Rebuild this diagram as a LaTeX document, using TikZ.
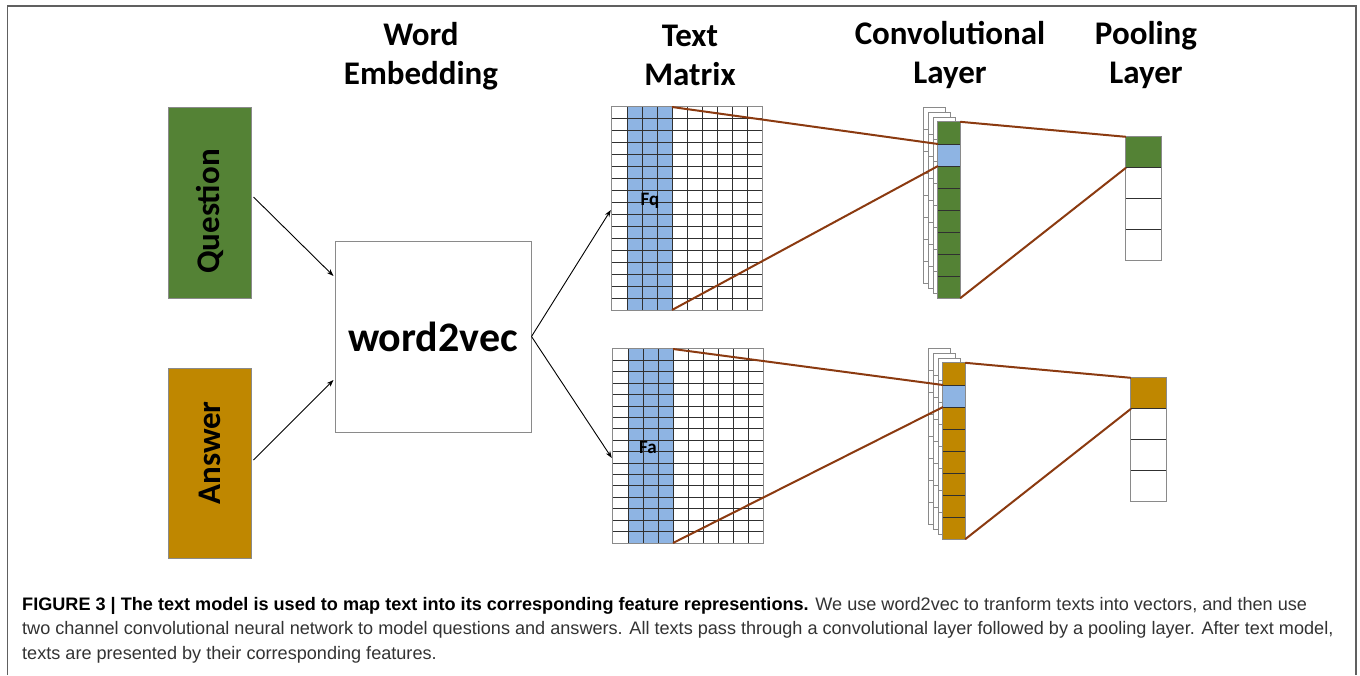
\documentclass[tikz,border=0pt]{standalone}
\usepackage{fontspec}
\setmainfont{Carlito}
\newfontfamily\capfont{Liberation Sans}
\usetikzlibrary{arrows.meta,calc}
\definecolor{qgreen}{HTML}{548235}
\definecolor{agold}{HTML}{BF8700}
\definecolor{cblue}{HTML}{8EB4E3}
\definecolor{brn}{HTML}{8B3A10}
\definecolor{gridc}{HTML}{303030}
\definecolor{edgec}{HTML}{8A8A8A}
\definecolor{framec}{HTML}{606060}
\definecolor{captc}{HTML}{333333}
\begin{document}
\begin{tikzpicture}[x=1pt,y=-1pt,
  hdr/.style={font=\fontsize{33}{39}\selectfont\bfseries, align=center, inner sep=0pt},
  inbox/.style={draw=edgec, line width=1pt, inner sep=0pt},
  arr/.style={-{Stealth[length=7pt,width=5pt]}, line width=0.9pt},
  brownline/.style={draw=brn, line width=2pt},
  gridl/.style={draw=gridc, line width=0.9pt},
  backl/.style={draw=edgec, fill=white, line width=0.9pt},
  capt/.style={font=\capfont\fontsize{18.1}{24}\selectfont, text=captc, anchor=base west, inner sep=0pt},
  lbl/.style={font=\fontsize{19}{20}\selectfont\bfseries, inner sep=0pt}]
\useasboundingbox (0,0) rectangle (1360,675);
\fill[white] (0,0) rectangle (1360,675);
\draw[framec, line width=1.5pt] (7.5,675) -- (7.5,6) -- (1356,6) -- (1356,675);

% headers
\node[hdr] (h1) at (421,56.5) {Word\\Embedding};
\node[hdr] (h2) at (690,55) {Text\\Matrix};
\node[hdr] (h3) at (950,55) {Convolutional\\Layer};
\node[hdr] (h4) at (1146,55) {Pooling\\Layer};

% inputs
\node[inbox, fill=qgreen, minimum width=83, minimum height=191] (q) at (209.5,202.5)
  {\rotatebox{90}{\fontsize{33}{34}\selectfont\bfseries Question\hspace*{18pt}}};
\node[inbox, fill=agold, minimum width=83, minimum height=190] (a) at (209.5,463)
  {\rotatebox{90}{\fontsize{33}{34}\selectfont\bfseries \hspace*{20pt}Answer}};
\node[inbox, fill=white, minimum width=196, minimum height=191] (w) at (433,336.5)
  {\fontsize{42}{44}\selectfont\bfseries word2vec};

% text matrices (frames)
\node[inner sep=0pt, minimum width=150, minimum height=203] (m1) at (687,208.5) {};
\node[inner sep=0pt, minimum width=150, minimum height=194] (m2) at (688,446) {};
\fill[cblue] (627,107) rectangle (672,310);
\fill[cblue] (628,349) rectangle (673,543);
\foreach \i in {1,...,9} {
  \draw[gridl] (612+15*\i,107) -- (612+15*\i,310);
  \draw[gridl] (613+15*\i,349) -- (613+15*\i,543);
}
\foreach \j in {1,...,16} {
  \draw[gridl] (612,107+203*\j/17) -- (762,107+203*\j/17);
  \draw[gridl] (613,349+194*\j/17) -- (763,349+194*\j/17);
}
\draw[edgec, line width=1pt] (m1.north west) rectangle (m1.south east);
\draw[edgec, line width=1pt] (m2.north west) rectangle (m2.south east);
\node[lbl] (fq) at (650,201) {Fq};
\node[lbl] (fa) at (648,447) {Fa};

% convolutional layers (top)
\foreach \k in {3,2,1} {
  \draw[backl] (938-5*\k,122-5*\k) rectangle +(22,176);
  \foreach \j in {1,...,7} \draw[edgec, line width=0.9pt] (938-5*\k,122-5*\k+22*\j) -- +(5,0);
}
\node[inner sep=0pt, minimum width=22, minimum height=176] (c1) at (949,210) {};
\fill[qgreen] (c1.north west) rectangle (c1.south east);
\fill[cblue] (938,144) rectangle (960,166);
\foreach \j in {1,...,7} \draw[gridc, line width=0.9pt] (938,122+22*\j) -- (960,122+22*\j);
\draw[edgec, line width=0.9pt] (c1.north west) rectangle (c1.south east);

% convolutional layers (bottom)
\foreach \k in {3,2,1} {
  \draw[backl] (943-5*\k,363-5*\k) rectangle +(22,176);
  \foreach \j in {1,...,7} \draw[edgec, line width=0.9pt] (943-5*\k,363-5*\k+22*\j) -- +(5,0);
}
\node[inner sep=0pt, minimum width=22, minimum height=176] (c2) at (954,451) {};
\fill[agold] (c2.north west) rectangle (c2.south east);
\fill[cblue] (943,385) rectangle (965,407);
\foreach \j in {1,...,7} \draw[gridc, line width=0.9pt] (943,363+22*\j) -- (965,363+22*\j);
\draw[edgec, line width=0.9pt] (c2.north west) rectangle (c2.south east);

% pooling layers
\node[inner sep=0pt, minimum width=35, minimum height=123] (p1) at (1143.5,198.5) {};
\fill[qgreen] (1126,137) rectangle (1161,167.75);
\node[inner sep=0pt, minimum width=35, minimum height=123] (p2) at (1148.5,439.5) {};
\fill[agold] (1131,378) rectangle (1166,408.75);
\foreach \j in {1,2,3} {
  \draw[gridc, line width=0.8pt] (1126,137+30.75*\j) -- (1161,137+30.75*\j);
  \draw[gridc, line width=0.8pt] (1131,378+30.75*\j) -- (1166,378+30.75*\j);
}
\draw[edgec, line width=1pt] (p1.north west) rectangle (p1.south east);
\draw[edgec, line width=1pt] (p2.north west) rectangle (p2.south east);

% named connector ends
\coordinate (m1t) at (672,107);
\coordinate (m1b) at (672,310);
\coordinate (m2t) at (673,349);
\coordinate (m2b) at (673,543);
\coordinate (c1a) at (938,144);
\coordinate (c1b) at (938,166);
\coordinate (c2a) at (943,385);
\coordinate (c2b) at (943,407);
\coordinate (p1b) at (1126,167.75);
\coordinate (p2b) at (1131,408.75);

% brown connectors
\draw[brownline] (m1t) -- (c1a);
\draw[brownline] (m1b) -- (c1b);
\draw[brownline] (c1.north east) -- (p1.north west);
\draw[brownline] (c1.south east) -- (p1b);
\draw[brownline] (m2t) -- (c2a);
\draw[brownline] (m2b) -- (c2b);
\draw[brownline] (c2.north east) -- (p2.north west);
\draw[brownline] (c2.south east) -- (p2b);

% arrows
\draw[arr] ([shift={(2,-5.5)}]q.east) -- ([shift={(-1,-60.5)}]w.west);
\draw[arr] ([shift={(2,-3)}]a.east) -- ([shift={(-1,43.5)}]w.west);
\draw[arr] (w.east) -- ([shift={(-1,1.5)}]m1.west);
\draw[arr] (w.east) -- ([shift={(-1,12)}]m2.west);

% caption
\node[capt] (cap1) at (22,610) {{\color{black}\bfseries FIGURE 3 | The text model is used to map text into its corresponding feature representions.} We use word2vec to tranform texts into vectors, and then use};
\node[capt] (cap2) at (22,634.5) {two channel convolutional neural network to model questions and answers. All texts pass through a convolutional layer followed by a pooling layer. After text model,};
\node[capt] (cap3) at (22,659) {texts are presented by their corresponding features.};
\end{tikzpicture}
\end{document}
